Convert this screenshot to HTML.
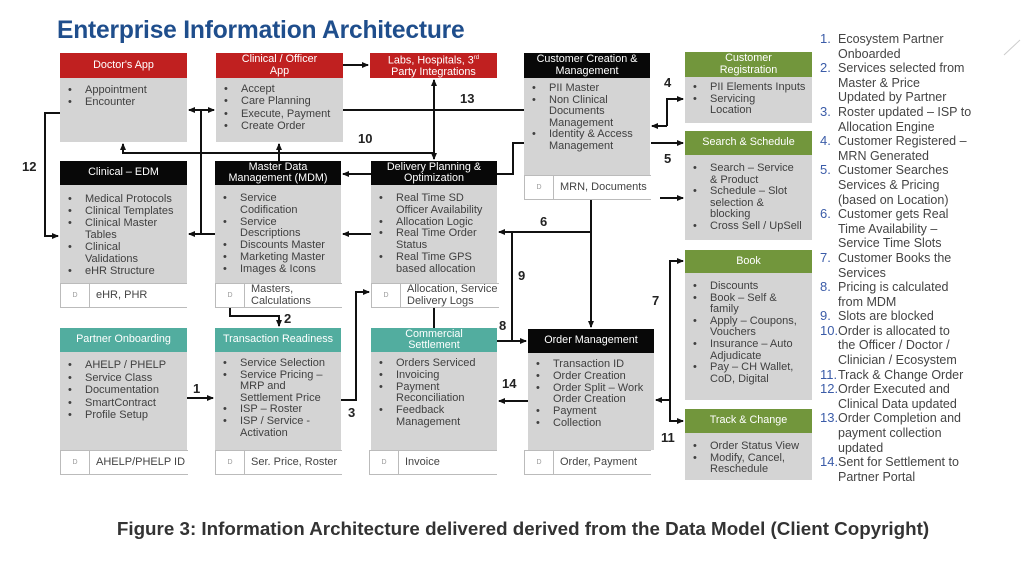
<!DOCTYPE html>
<html><head><meta charset="utf-8"><style>
*{margin:0;padding:0;box-sizing:border-box}
body{width:1024px;height:574px;background:#fff;position:relative;overflow:hidden;font-family:"Liberation Sans",sans-serif;color:#444}
.t{position:absolute;left:57px;top:17px;font-size:24.6px;font-weight:bold;color:#1f4e8c;letter-spacing:-0.2px}
.h{position:absolute;color:#fff;font-size:10.8px;text-align:center;display:flex;align-items:center;justify-content:center;line-height:11.5px}
.r{background:#c02020}.k{background:#080808}.g{background:#72963c}.c{background:#52ad9f}
.b{position:absolute;background:#d4d4d4}
.b ul{list-style:none;padding:6px 4px 0 6px;font-size:11px;line-height:12.3px;color:#404040}
.b li{position:relative;padding-left:19px}
.b li:before{content:"•";position:absolute;left:2px}
.d{position:absolute;background:#fff;border:1px solid #bbb;border-right:none;height:25px;font-size:11px;color:#444;display:flex;align-items:center;line-height:11.5px}
.d span.s{width:29px;border-right:1px solid #bbb;height:100%;display:flex;align-items:center;justify-content:center;font-size:7px;color:#999}
.d span.v{padding-left:6px}
.n{position:absolute;font-weight:bold;font-size:13px;color:#222}
.list{position:absolute;left:820px;top:32px;width:176px;font-size:12.5px;line-height:14.6px;color:#444}
.list div{position:relative;padding-left:18px}
.list b{position:absolute;left:0;font-weight:normal;color:#3b5ca8;font-size:13px}
.cap{position:absolute;top:518px;left:0;width:1046px;text-align:center;font-size:18.8px;font-weight:bold;color:#333}
</style></head><body>
<div class="t">Enterprise Information Architecture</div>

<svg width="1024" height="574" style="position:absolute;left:0;top:0">
<defs><marker id="a" markerUnits="userSpaceOnUse" markerWidth="7" markerHeight="7" refX="6" refY="3.5" orient="auto"><path d="M0,0.5 L7,3.5 L0,6.5z" fill="#111"/></marker></defs>
<g stroke="#111" stroke-width="2" fill="none">
<path d="M60,113 H45 V236 H58" marker-end="url(#a)"/>
<path d="M201,110 H189" marker-end="url(#a)"/>
<path d="M201,110 H214" marker-end="url(#a)"/>
<path d="M201,110 V234 H189" marker-end="url(#a)"/>
<path d="M215,234 H201"/>
<path d="M343,110 H524"/>
<path d="M343,65 H368" marker-end="url(#a)"/>
<path d="M434,153 V80" marker-end="url(#a)"/>
<path d="M434,153 V159" marker-end="url(#a)"/>
<path d="M434,153 H123 V144" marker-end="url(#a)"/>
<path d="M279,161 V144" marker-end="url(#a)"/>
<path d="M371,174 H343" marker-end="url(#a)"/>
<path d="M497,174 H513 V143 H524"/>
<path d="M371,234 H343" marker-end="url(#a)"/>
<path d="M591,200 V232 H499" marker-end="url(#a)"/>
<path d="M591,232 V327" marker-end="url(#a)"/>
<path d="M512,232 V341 H526" marker-end="url(#a)"/>
<path d="M497,341 H512"/>
<path d="M528,401 H499" marker-end="url(#a)"/>
<path d="M230,308 V316 H279 V326" marker-end="url(#a)"/>
<path d="M187,398 H213" marker-end="url(#a)"/>
<path d="M341,400 H356 V292 H369" marker-end="url(#a)"/>
<path d="M434,328 V308"/>
<path d="M667,126 V99 H683" marker-end="url(#a)"/>
<path d="M667,126 H652" marker-end="url(#a)"/>
<path d="M651,143 H683" marker-end="url(#a)"/>
<path d="M660,198 H683" marker-end="url(#a)"/>
<path d="M670,400 V261 H683" marker-end="url(#a)"/>
<path d="M670,400 V421 H683" marker-end="url(#a)"/>
<path d="M670,400 H656" marker-end="url(#a)"/>
</g>
<path d="M1004,55 L1020,40" stroke="#ccc" stroke-width="1"/>
</svg>

<div class="h r" style="left:60px;top:53px;width:127px;height:25px"><div>Doctor's App</div></div>
<div class="b" style="left:60px;top:78px;width:127px;height:64px"><ul><li>Appointment</li><li>Encounter</li></ul></div>

<div class="h r" style="left:216px;top:53px;width:127px;height:25px"><div>Clinical / Officer<br>App</div></div>
<div class="b" style="left:216px;top:78px;width:127px;height:64px"><ul style="padding-top:5px"><li>Accept</li><li>Care Planning</li><li>Execute, Payment</li><li>Create Order</li></ul></div>

<div class="h r" style="left:370px;top:53px;width:127px;height:25px"><div>Labs, Hospitals, 3<sup style="font-size:6px">rd</sup><br>Party Integrations</div></div>

<div class="h k" style="left:524px;top:53px;width:126px;height:25px"><div>Customer Creation &amp;<br>Management</div></div>
<div class="b" style="left:524px;top:78px;width:126px;height:97px"><ul style="padding-top:5px;line-height:11.5px"><li>PII Master</li><li>Non Clinical<br>Documents<br>Management</li><li>Identity &amp; Access<br>Management</li></ul></div>
<div class="d" style="left:524px;top:175px;width:127px"><span class="s">D</span><span class="v">MRN, Documents</span></div>

<div class="h g" style="left:685px;top:52px;width:127px;height:25px"><div>Customer<br>Registration</div></div>
<div class="b" style="left:685px;top:77px;width:127px;height:46px"><ul style="padding-top:5px;line-height:11.5px"><li>PII Elements Inputs</li><li>Servicing<br>Location</li></ul></div>

<div class="h g" style="left:685px;top:131px;width:127px;height:24px"><div>Search &amp; Schedule</div></div>
<div class="b" style="left:685px;top:155px;width:127px;height:85px"><ul style="padding-top:8px;line-height:11.5px"><li>Search – Service<br>&amp; Product</li><li>Schedule – Slot<br>selection &amp;<br>blocking</li><li>Cross Sell / UpSell</li></ul></div>

<div class="h k" style="left:60px;top:161px;width:127px;height:24px"><div>Clinical – EDM</div></div>
<div class="b" style="left:60px;top:185px;width:127px;height:98px"><ul style="padding-top:8px;line-height:12px"><li>Medical Protocols</li><li>Clinical Templates</li><li>Clinical Master<br>Tables</li><li>Clinical<br>Validations</li><li>eHR Structure</li></ul></div>
<div class="d" style="left:60px;top:283px;width:127px"><span class="s">D</span><span class="v">eHR, PHR</span></div>

<div class="h k" style="left:215px;top:161px;width:126px;height:24px"><div>Master Data<br>Management (MDM)</div></div>
<div class="b" style="left:215px;top:185px;width:126px;height:98px"><ul style="padding-top:8px;line-height:11.8px"><li>Service<br>Codification</li><li>Service<br>Descriptions</li><li>Discounts Master</li><li>Marketing Master</li><li>Images &amp; Icons</li></ul></div>
<div class="d" style="left:215px;top:283px;width:127px"><span class="s">D</span><span class="v">Masters,<br>Calculations</span></div>

<div class="h k" style="left:371px;top:161px;width:126px;height:24px"><div>Delivery Planning &amp;<br>Optimization</div></div>
<div class="b" style="left:371px;top:185px;width:126px;height:98px"><ul style="padding-top:8px;line-height:11.8px"><li>Real Time SD<br>Officer Availability</li><li>Allocation Logic</li><li>Real Time Order<br>Status</li><li>Real Time GPS<br>based allocation</li></ul></div>
<div class="d" style="left:371px;top:283px;width:128px"><span class="s">D</span><span class="v">Allocation, Service<br>Delivery Logs</span></div>

<div class="h g" style="left:685px;top:250px;width:127px;height:23px"><div>Book</div></div>
<div class="b" style="left:685px;top:273px;width:127px;height:127px"><ul style="padding-top:8px;line-height:11.6px"><li>Discounts</li><li>Book – Self &amp;<br>family</li><li>Apply – Coupons,<br>Vouchers</li><li>Insurance – Auto<br>Adjudicate</li><li>Pay – CH Wallet,<br>CoD, Digital</li></ul></div>

<div class="h g" style="left:685px;top:409px;width:127px;height:24px"><div>Track &amp; Change</div></div>
<div class="b" style="left:685px;top:433px;width:127px;height:47px"><ul style="padding-top:8px;line-height:11.6px"><li>Order Status View</li><li>Modify, Cancel,<br>Reschedule</li></ul></div>

<div class="h c" style="left:60px;top:328px;width:127px;height:24px"><div>Partner Onboarding</div></div>
<div class="b" style="left:60px;top:352px;width:127px;height:98px"><ul style="padding-top:7px;line-height:12.5px"><li>AHELP / PHELP</li><li>Service Class</li><li>Documentation</li><li>SmartContract</li><li>Profile Setup</li></ul></div>
<div class="d" style="left:60px;top:450px;width:128px"><span class="s">D</span><span class="v">AHELP/PHELP ID</span></div>

<div class="h c" style="left:215px;top:328px;width:126px;height:24px"><div>Transaction Readiness</div></div>
<div class="b" style="left:215px;top:352px;width:126px;height:98px"><ul style="padding-top:6px;line-height:11.6px"><li>Service Selection</li><li>Service Pricing –<br>MRP and<br>Settlement Price</li><li>ISP – Roster</li><li>ISP / Service -<br>Activation</li></ul></div>
<div class="d" style="left:215px;top:450px;width:127px"><span class="s">D</span><span class="v">Ser. Price, Roster</span></div>

<div class="h c" style="left:371px;top:328px;width:126px;height:24px"><div>Commercial<br>Settlement</div></div>
<div class="b" style="left:371px;top:352px;width:126px;height:98px"><ul style="padding-top:6px;line-height:11.8px"><li>Orders Serviced</li><li>Invoicing</li><li>Payment<br>Reconciliation</li><li>Feedback<br>Management</li></ul></div>
<div class="d" style="left:369px;top:450px;width:128px"><span class="s">D</span><span class="v">Invoice</span></div>

<div class="h k" style="left:528px;top:329px;width:126px;height:24px"><div>Order Management</div></div>
<div class="b" style="left:528px;top:353px;width:126px;height:97px"><ul style="padding-top:6px;line-height:11.8px"><li>Transaction ID</li><li>Order Creation</li><li>Order Split – Work<br>Order Creation</li><li>Payment</li><li>Collection</li></ul></div>
<div class="d" style="left:524px;top:450px;width:127px"><span class="s">D</span><span class="v">Order, Payment</span></div>

<div class="n" style="left:22px;top:159px">12</div>
<div class="n" style="left:460px;top:91px">13</div>
<div class="n" style="left:358px;top:131px">10</div>
<div class="n" style="left:540px;top:214px">6</div>
<div class="n" style="left:518px;top:268px">9</div>
<div class="n" style="left:499px;top:318px">8</div>
<div class="n" style="left:502px;top:376px">14</div>
<div class="n" style="left:284px;top:311px">2</div>
<div class="n" style="left:193px;top:381px">1</div>
<div class="n" style="left:348px;top:405px">3</div>
<div class="n" style="left:664px;top:75px">4</div>
<div class="n" style="left:664px;top:151px">5</div>
<div class="n" style="left:652px;top:293px">7</div>
<div class="n" style="left:661px;top:430px">11</div>

<div class="list">
<div><b>1.</b>Ecosystem Partner<br>Onboarded</div>
<div><b>2.</b>Services selected from<br>Master &amp; Price<br>Updated by Partner</div>
<div><b>3.</b>Roster updated – ISP to<br>Allocation Engine</div>
<div><b>4.</b>Customer Registered –<br>MRN Generated</div>
<div><b>5.</b>Customer Searches<br>Services &amp; Pricing<br>(based on Location)</div>
<div><b>6.</b>Customer gets Real<br>Time Availability –<br>Service Time Slots</div>
<div><b>7.</b>Customer Books the<br>Services</div>
<div><b>8.</b>Pricing is calculated<br>from MDM</div>
<div><b>9.</b>Slots are blocked</div>
<div><b>10.</b>Order is allocated to<br>the Officer / Doctor /<br>Clinician / Ecosystem</div>
<div><b>11.</b>Track &amp; Change Order</div>
<div><b>12.</b>Order Executed and<br>Clinical Data updated</div>
<div><b>13.</b>Order Completion and<br>payment collection<br>updated</div>
<div><b>14.</b>Sent for Settlement to<br>Partner Portal</div>
</div>

<div class="cap">Figure 3: Information Architecture delivered derived from the Data Model (Client Copyright)</div>
</body></html>
